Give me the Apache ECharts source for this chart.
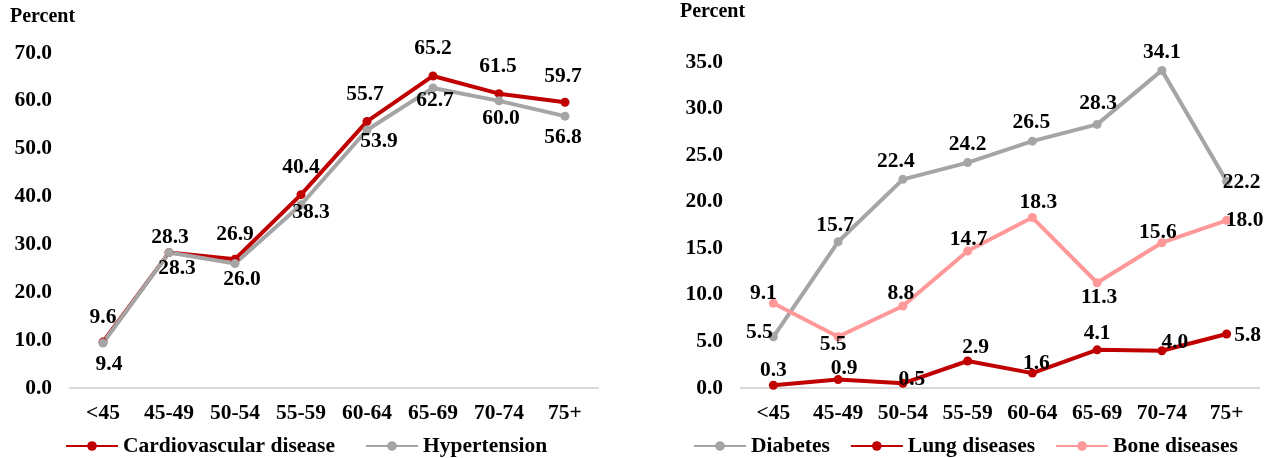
<!DOCTYPE html>
<html>
<head>
<meta charset="utf-8">
<script src="https://cdn.jsdelivr.net/npm/echarts@6/dist/echarts.min.js"></script>
<style>
  html, body { margin: 0; padding: 0; background: #fff; }
  #chart { width: 1278px; height: 458px; }
</style>
</head>
<body>
<div id="chart"></div>
<script>
// age groups (both panels)
var ageGroups = ['<45', '45-49', '50-54', '55-59', '60-64', '65-69', '70-74', '75+'];

// left panel
var cardiovascular = [9.6, 28.3, 26.9, 40.4, 55.7, 65.2, 61.5, 59.7];
var hypertension = [9.4, 28.3, 26.0, 38.3, 53.9, 62.7, 60.0, 56.8];

// right panel
var diabetes = [5.5, 15.7, 22.4, 24.2, 26.5, 28.3, 34.1, 22.2];
var lungDiseases = [0.3, 0.9, 0.5, 2.9, 1.6, 4.1, 4.0, 5.8];
var boneDiseases = [9.1, 5.5, 8.8, 14.7, 18.3, 11.3, 15.6, 18.0];

// label offsets from the point centre, [dx, dy] in px
var cvdOff = [[0, -25], [1, -15], [0, -25], [0, -27], [-2, -27], [0, -28], [-1, -27], [-2, -26]];
var hypOff = [[6, 21], [8, 16], [7, 16], [10, 8], [12, 11], [2, 13], [2, 18], [-2, 21]];
var diaOff = [[-14, -4], [-3, -16], [-7, -18], [0, -18], [-1, -19], [1, -21], [0, -18], [15, 1]];
var lungOff = [[0, -15], [6, -11], [9, -4], [8, -14], [4, -10], [0, -16], [13, -8], [21, 1]];
var boneOff = [[-10, -10], [-5, 8], [-2, -13], [1, -12], [6, -15], [2, 15], [-4, -10], [18, 0]];

var FONT = '"Liberation Serif", "Times New Roman", serif';
var FS = 21.5;
var RED = '#C00000', GRAY = '#A5A5A5', PINK = '#FF9999';

function withLabels(values, offsets) {
    return values.map(function (v, i) {
        return {value: v, label: {offset: offsets[i]}};
    });
}

function lineSeries(name, values, offsets, color, idx) {
    return {
        name: name,
        type: 'line',
        xAxisIndex: idx,
        yAxisIndex: idx,
        data: withLabels(values, offsets),
        symbol: 'circle',
        symbolSize: 9,
        lineStyle: {color: color, width: 4},
        itemStyle: {color: color},
        label: {
            show: true,
            position: 'inside',
            align: 'center',
            verticalAlign: 'middle',
            color: '#000',
            fontFamily: FONT,
            fontWeight: 'bold',
            fontSize: FS,
            formatter: function (p) { return p.value.toFixed(1); }
        },
        animation: false
    };
}

function xAxis(idx) {
    return {
        type: 'category',
        gridIndex: idx,
        data: ageGroups,
        axisLine: {lineStyle: {color: '#D9D9D9', width: 2}},
        axisTick: {show: false},
        axisLabel: {interval: 0, color: '#000', fontFamily: FONT, fontWeight: 'bold', fontSize: FS, margin: 14}
    };
}

function yAxis(idx, max, interval) {
    return {
        type: 'value',
        gridIndex: idx,
        min: 0,
        max: max,
        interval: interval,
        axisLine: {show: false},
        axisTick: {show: false},
        splitLine: {show: false},
        axisLabel: {
            color: '#000', fontFamily: FONT, fontWeight: 'bold', fontSize: FS, margin: 18,
            formatter: function (v) { return v.toFixed(1); }
        }
    };
}

var myChart = echarts.init(document.getElementById('chart'));
var textStyle = {color: '#000', fontFamily: FONT, fontWeight: 'bold', fontSize: FS};
var titleStyle = {color: '#000', fontFamily: FONT, fontWeight: 'bold', fontSize: 20};

myChart.setOption({
    title: [
        {text: 'Percent', left: 5, top: 2, textStyle: titleStyle},
        {text: 'Percent', left: 675, top: -3, textStyle: titleStyle}
    ],
    legend: [
        {
            left: 60, top: 430, itemWidth: 52, itemHeight: 12, itemGap: 30,
            textStyle: textStyle,
            data: ['Cardiovascular disease', 'Hypertension']
        },
        {
            left: 688, top: 430, itemWidth: 52, itemHeight: 12, itemGap: 20,
            textStyle: textStyle,
            data: ['Diabetes', 'Lung diseases', 'Bone diseases']
        }
    ],
    grid: [
        {left: 70, top: 53, width: 528, height: 335},
        {left: 741, top: 62, width: 518, height: 326}
    ],
    xAxis: [xAxis(0), xAxis(1)],
    yAxis: [yAxis(0, 70, 10), yAxis(1, 35, 5)],
    series: [
        lineSeries('Cardiovascular disease', cardiovascular, cvdOff, RED, 0),
        lineSeries('Hypertension', hypertension, hypOff, GRAY, 0),
        lineSeries('Diabetes', diabetes, diaOff, GRAY, 1),
        lineSeries('Bone diseases', boneDiseases, boneOff, PINK, 1),
        lineSeries('Lung diseases', lungDiseases, lungOff, RED, 1)
    ]
});
</script>
</body>
</html>
